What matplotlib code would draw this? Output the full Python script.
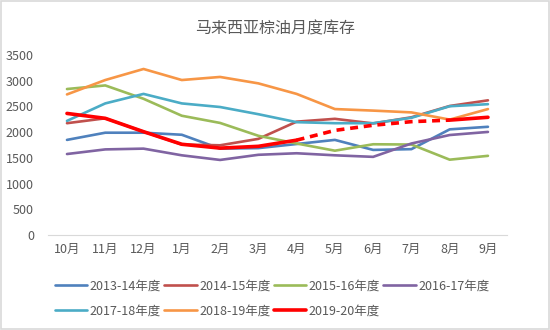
import matplotlib.pyplot as plt
import numpy as np

plt.rcParams["font.family"] = ["Noto Sans CJK SC", "DejaVu Sans"]

MONTHS = ["10月", "11月", "12月", "1月", "2月", "3月", "4月", "5月", "6月", "7月", "8月", "9月"]

S_2013_14 = [1850, 1990, 1990, 1950, 1680, 1690, 1770, 1850, 1655, 1670, 2055, 2105]
S_2014_15 = [2175, 2270, 2010, 1760, 1745, 1870, 2205, 2260, 2170, 2290, 2510, 2620]
S_2015_16 = [2840, 2910, 2650, 2320, 2180, 1930, 1780, 1640, 1765, 1760, 1465, 1540]
S_2016_17 = [1575, 1665, 1680, 1550, 1460, 1560, 1590, 1550, 1520, 1780, 1945, 2005]
S_2017_18 = [2220, 2560, 2745, 2560, 2490, 2350, 2195, 2175, 2175, 2280, 2505, 2545]
S_2018_19 = [2735, 3015, 3230, 3015, 3075, 2950, 2745, 2450, 2420, 2385, 2245, 2450]
S_2019_20 = [2365, 2270, 2010, 1765, 1690, 1725, 1845, 2035, 2135, 2205, 2235, 2290]

LABELS = ["2013-14年度", "2014-15年度", "2015-16年度", "2016-17年度",
          "2017-18年度", "2018-19年度", "2019-20年度"]
COLORS = ["#4F81BD", "#C0504D", "#9BBB59", "#8064A2", "#4BACC6", "#F79646", "#FF0000"]

GREY = "#595959"

fig = plt.figure(figsize=(5.5, 3.3), dpi=100)
ax = fig.add_axes([0.087, 0.288, 0.835, 0.545])

x = np.arange(len(MONTHS))
series = [S_2013_14, S_2014_15, S_2015_16, S_2016_17, S_2017_18, S_2018_19]
handles = []
for values, label, color in zip(series, LABELS, COLORS):
    (h,) = ax.plot(x, values, color=color, linewidth=1.9, label=label,
                   solid_joinstyle="round", solid_capstyle="round")
    handles.append(h)

# 2019-20: solid for known months, dashed for the estimate (4月-8月)
red = np.array(S_2019_20)
(h,) = ax.plot(x[:7], red[:7], color=COLORS[6], linewidth=2.6, label=LABELS[6],
               solid_joinstyle="round", solid_capstyle="round")
ax.plot(x[6:11], red[6:11], color=COLORS[6], linewidth=2.6, linestyle=(0, (2.2, 1.6)))
ax.plot(x[10:], red[10:], color=COLORS[6], linewidth=2.6, solid_capstyle="round")
handles.append(h)

ax.set_xlim(-0.5, len(MONTHS) - 0.5)
ax.set_ylim(0, 3500)
ax.set_yticks(np.arange(0, 3501, 500))
ax.set_xticks(x)
ax.set_xticklabels(MONTHS)
ax.tick_params(axis="both", length=0, labelsize=9, colors=GREY, pad=6)
ax.tick_params(axis="y", pad=10)
for side in ["top", "right", "left"]:
    ax.spines[side].set_visible(False)
ax.spines["bottom"].set_color("#D9D9D9")

fig.text(0.5, 0.912, "马来西亚棕油月度库存", ha="center", va="center",
         fontsize=11.5, color=GREY)

# legend filled row by row
order = [0, 4, 1, 5, 2, 6, 3]
leg = fig.legend([handles[i] for i in order], [LABELS[i] for i in order],
                 ncol=4, loc="upper left", bbox_to_anchor=(0.09, 0.168),
                 frameon=False, fontsize=9, handlelength=2.6, handletextpad=0.2,
                 columnspacing=0.25, labelspacing=0.95, borderaxespad=0)
for t in leg.get_texts():
    t.set_color(GREY)

# light border round the whole picture
fig.patches.append(plt.Rectangle((0.002, 0.003), 0.996, 0.994, transform=fig.transFigure,
                                 fill=False, edgecolor="#D9D9D9", linewidth=1.2))

plt.savefig("out.png", dpi=100)
